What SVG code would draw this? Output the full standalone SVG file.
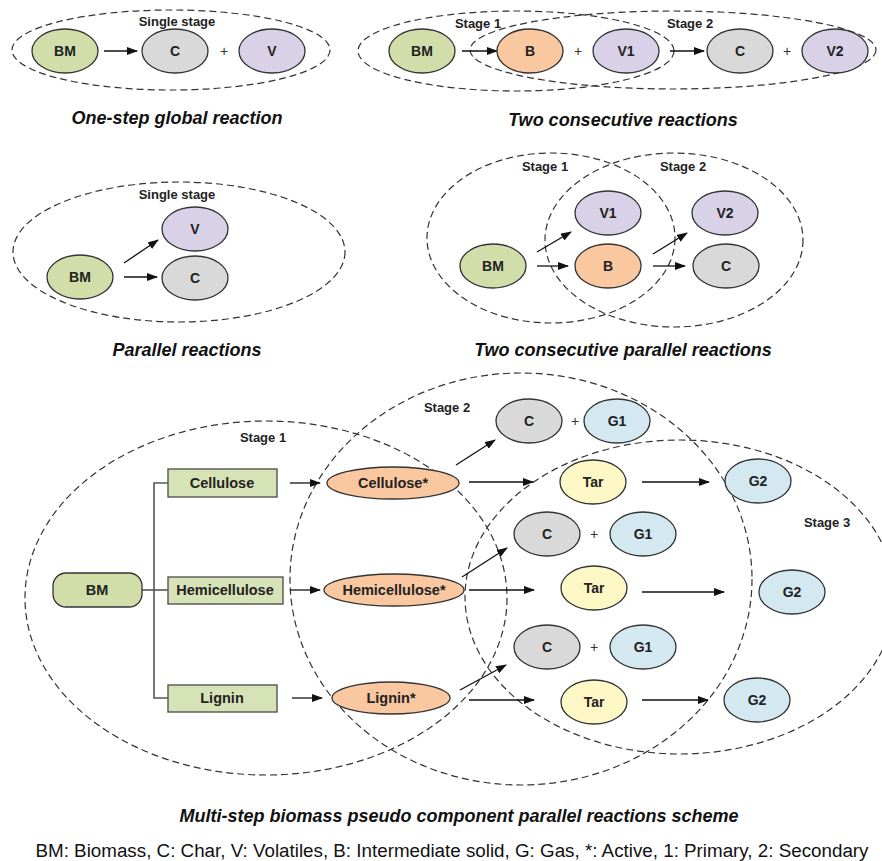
<svg xmlns="http://www.w3.org/2000/svg" width="882" height="861" viewBox="0 0 882 861">
  <defs>
    <marker id="arr" markerUnits="userSpaceOnUse" markerWidth="11" markerHeight="8" refX="10" refY="4" orient="auto">
      <path d="M0,0 L11,4 L0,8 z" fill="#111"/>
    </marker>
    <style>
      text { font-family: "Liberation Sans", Arial, Helvetica, sans-serif; }
      .stage { fill: none; stroke: #333; stroke-width: 1.2; stroke-dasharray: 7 4; }
      .n { stroke: #333; stroke-width: 1.3; }
      .bm { fill: #d1dea9; }
      .box { fill: #d6e3b6; stroke: #555; stroke-width: 1.4; }
      .b { fill: #f9c8a1; }
      .c { fill: #d9d9d9; }
      .v { fill: #d9d1e8; }
      .g { fill: #d4e8f1; }
      .tar { fill: #fdf8c6; }
      .lbl { font-weight: bold; font-size: 14px; fill: #222; text-anchor: middle; dominant-baseline: central; }
      .lbl14 { font-size: 14.5px; }
      .stlbl { font-weight: bold; font-size: 13px; fill: #222; text-anchor: middle; }
      .plus { font-size: 14px; fill: #333; text-anchor: middle; dominant-baseline: central; }
      .cap { font-weight: bold; font-style: italic; font-size: 18px; fill: #111; text-anchor: middle; }
      .legend { font-size: 18.8px; fill: #111; text-anchor: middle; }
      .arrow { stroke: #111; stroke-width: 1.3; fill: none; marker-end: url(#arr); }
      .tree { stroke: #555; stroke-width: 1.6; fill: none; }
    </style>
  </defs>

  <rect width="882" height="861" fill="#fff"/>

  <!-- stage boundaries -->
  <g id="stages">
    <ellipse class="stage" cx="171" cy="50" rx="159" ry="40"/>
    <ellipse class="stage" cx="516" cy="51" rx="158" ry="40"/>
    <ellipse class="stage" cx="673" cy="50" rx="203" ry="39"/>
    <ellipse class="stage" cx="179" cy="252" rx="166" ry="70"/>
    <ellipse class="stage" cx="551" cy="238" rx="124" ry="85"/>
    <ellipse class="stage" cx="674" cy="240" rx="129" ry="87"/>
    <ellipse class="stage" cx="266" cy="598" rx="241" ry="177"/>
    <ellipse class="stage" cx="521" cy="579" rx="231" ry="206"/>
    <ellipse class="stage" cx="680" cy="597" rx="215" ry="157"/>
  </g>

  <!-- stage labels -->
  <g id="stage-labels">
    <text class="stlbl" x="177" y="26">Single stage</text>
    <text class="stlbl" x="478" y="28">Stage 1</text>
    <text class="stlbl" x="690" y="28">Stage 2</text>
    <text class="stlbl" x="177" y="199">Single stage</text>
    <text class="stlbl" x="545" y="171">Stage 1</text>
    <text class="stlbl" x="683" y="171">Stage 2</text>
    <text class="stlbl" x="263" y="442">Stage 1</text>
    <text class="stlbl" x="447" y="412">Stage 2</text>
    <text class="stlbl" x="827" y="527">Stage 3</text>
  </g>

  <!-- connectors -->
  <g id="connectors">
    <line class="arrow" x1="104" y1="51" x2="137" y2="51"/>
    <line class="arrow" x1="462" y1="51" x2="497" y2="51"/>
    <line class="arrow" x1="670" y1="51" x2="704" y2="51"/>
    <line class="arrow" x1="124" y1="263" x2="158" y2="240"/>
    <line class="arrow" x1="124" y1="277" x2="157" y2="277"/>
    <line class="arrow" x1="537" y1="252" x2="571" y2="232"/>
    <line class="arrow" x1="537" y1="266" x2="568" y2="266"/>
    <line class="arrow" x1="653" y1="254" x2="687" y2="233"/>
    <line class="arrow" x1="653" y1="266" x2="685" y2="266"/>
    <polyline class="tree" points="168,483 154,483 154,698 168,698"/>
    <line class="tree" x1="142" y1="590" x2="168" y2="590"/>
    <line class="arrow" x1="290" y1="483" x2="320" y2="483"/>
    <line class="arrow" x1="290" y1="590" x2="320" y2="590"/>
    <line class="arrow" x1="292" y1="698" x2="322" y2="698"/>
    <line class="arrow" x1="456" y1="465" x2="495" y2="440"/>
    <line class="arrow" x1="469" y1="482" x2="533" y2="482"/>
    <line class="arrow" x1="642" y1="482" x2="709" y2="482"/>
    <line class="arrow" x1="462" y1="577" x2="507" y2="548"/>
    <line class="arrow" x1="469" y1="590" x2="534" y2="590"/>
    <line class="arrow" x1="642" y1="592" x2="724" y2="592"/>
    <line class="arrow" x1="460" y1="690" x2="506" y2="665"/>
    <line class="arrow" x1="469" y1="700" x2="534" y2="700"/>
    <line class="arrow" x1="642" y1="700" x2="708" y2="700"/>
  </g>

  <!-- one-step global reaction -->
  <g id="g1-bm"><ellipse class="n bm" cx="65" cy="51" rx="33" ry="22"/><text class="lbl" x="65" y="51">BM</text></g>
  <g id="g1-c"><ellipse class="n c" cx="175" cy="51" rx="33" ry="22"/><text class="lbl" x="175" y="51">C</text></g>
  <text class="plus" x="224" y="51">+</text>
  <g id="g1-v"><ellipse class="n v" cx="272" cy="51" rx="33" ry="22"/><text class="lbl" x="272" y="51">V</text></g>

  <!-- two consecutive reactions -->
  <g id="g2-bm"><ellipse class="n bm" cx="422" cy="51" rx="33" ry="22"/><text class="lbl" x="422" y="51">BM</text></g>
  <g id="g2-b"><ellipse class="n b" cx="530" cy="51" rx="33" ry="22"/><text class="lbl" x="530" y="51">B</text></g>
  <text class="plus" x="578" y="51">+</text>
  <g id="g2-v1"><ellipse class="n v" cx="626" cy="51" rx="33" ry="22"/><text class="lbl" x="626" y="51">V1</text></g>
  <g id="g2-c"><ellipse class="n c" cx="740" cy="51" rx="33" ry="22"/><text class="lbl" x="740" y="51">C</text></g>
  <text class="plus" x="787" y="51">+</text>
  <g id="g2-v2"><ellipse class="n v" cx="835" cy="51" rx="33" ry="22"/><text class="lbl" x="835" y="51">V2</text></g>

  <!-- parallel reactions -->
  <g id="g3-bm"><ellipse class="n bm" cx="80" cy="277" rx="33" ry="22"/><text class="lbl" x="80" y="277">BM</text></g>
  <g id="g3-v"><ellipse class="n v" cx="195" cy="229" rx="33" ry="22"/><text class="lbl" x="195" y="229">V</text></g>
  <g id="g3-c"><ellipse class="n c" cx="195" cy="278" rx="33" ry="22"/><text class="lbl" x="195" y="278">C</text></g>

  <!-- two consecutive parallel reactions -->
  <g id="g4-bm"><ellipse class="n bm" cx="493" cy="266" rx="33" ry="22"/><text class="lbl" x="493" y="266">BM</text></g>
  <g id="g4-v1"><ellipse class="n v" cx="608" cy="213" rx="33" ry="22"/><text class="lbl" x="608" y="213">V1</text></g>
  <g id="g4-b"><ellipse class="n b" cx="608" cy="266" rx="33" ry="22"/><text class="lbl" x="608" y="266">B</text></g>
  <g id="g4-v2"><ellipse class="n v" cx="725" cy="213" rx="33" ry="22"/><text class="lbl" x="725" y="213">V2</text></g>
  <g id="g4-c"><ellipse class="n c" cx="726" cy="266" rx="33" ry="22"/><text class="lbl" x="726" y="266">C</text></g>

  <!-- multi-step pseudo component scheme -->
  <g id="m-bm"><rect class="n bm" x="53" y="573" width="89" height="34" rx="13"/><text class="lbl lbl14" x="97" y="590">BM</text></g>
  <g id="m-cel"><rect class="box" x="168" y="469" width="109" height="28"/><text class="lbl lbl14" x="222" y="483">Cellulose</text></g>
  <g id="m-hem"><rect class="box" x="168" y="577" width="115" height="27"/><text class="lbl lbl14" x="225" y="590">Hemicellulose</text></g>
  <g id="m-lig"><rect class="box" x="168" y="685" width="109" height="27"/><text class="lbl lbl14" x="222" y="698">Lignin</text></g>

  <g id="m-cel-a"><ellipse class="n b" cx="393" cy="483" rx="66" ry="16"/><text class="lbl lbl14" x="393" y="483">Cellulose*</text></g>
  <g id="m-hem-a"><ellipse class="n b" cx="394" cy="590" rx="70" ry="16"/><text class="lbl lbl14" x="394" y="590">Hemicellulose*</text></g>
  <g id="m-lig-a"><ellipse class="n b" cx="391" cy="698" rx="59" ry="16"/><text class="lbl lbl14" x="391" y="698">Lignin*</text></g>

  <g id="m-c1"><ellipse class="n c" cx="529" cy="421" rx="33" ry="22"/><text class="lbl" x="529" y="421">C</text></g>
  <text class="plus" x="575" y="421">+</text>
  <g id="m-g1a"><ellipse class="n g" cx="617" cy="421" rx="33" ry="22"/><text class="lbl" x="617" y="421">G1</text></g>
  <g id="m-tar1"><ellipse class="n tar" cx="593" cy="482" rx="33" ry="22"/><text class="lbl" x="593" y="482">Tar</text></g>
  <g id="m-g2a"><ellipse class="n g" cx="758" cy="481" rx="33" ry="22"/><text class="lbl" x="758" y="481">G2</text></g>

  <g id="m-c2"><ellipse class="n c" cx="547" cy="534" rx="33" ry="22"/><text class="lbl" x="547" y="534">C</text></g>
  <text class="plus" x="594" y="534">+</text>
  <g id="m-g1b"><ellipse class="n g" cx="643" cy="534" rx="33" ry="22"/><text class="lbl" x="643" y="534">G1</text></g>
  <g id="m-tar2"><ellipse class="n tar" cx="594" cy="588" rx="33" ry="22"/><text class="lbl" x="594" y="588">Tar</text></g>
  <g id="m-g2b"><ellipse class="n g" cx="792" cy="592" rx="33" ry="22"/><text class="lbl" x="792" y="592">G2</text></g>

  <g id="m-c3"><ellipse class="n c" cx="547" cy="647" rx="33" ry="22"/><text class="lbl" x="547" y="647">C</text></g>
  <text class="plus" x="594" y="647">+</text>
  <g id="m-g1c"><ellipse class="n g" cx="643" cy="647" rx="33" ry="22"/><text class="lbl" x="643" y="647">G1</text></g>
  <g id="m-tar3"><ellipse class="n tar" cx="594" cy="702" rx="33" ry="22"/><text class="lbl" x="594" y="702">Tar</text></g>
  <g id="m-g2c"><ellipse class="n g" cx="757" cy="700" rx="33" ry="22"/><text class="lbl" x="757" y="700">G2</text></g>

  <!-- captions -->
  <g id="captions">
    <text class="cap" x="177" y="124">One-step global reaction</text>
    <text class="cap" x="623" y="126">Two consecutive reactions</text>
    <text class="cap" x="187" y="356">Parallel reactions</text>
    <text class="cap" x="623" y="356">Two consecutive parallel reactions</text>
    <text class="cap" x="459" y="822">Multi-step biomass pseudo component parallel reactions scheme</text>
    <text class="legend" x="452" y="857">BM: Biomass, C: Char, V: Volatiles, B: Intermediate solid, G: Gas, *: Active, 1: Primary, 2: Secondary</text>
  </g>
</svg>
